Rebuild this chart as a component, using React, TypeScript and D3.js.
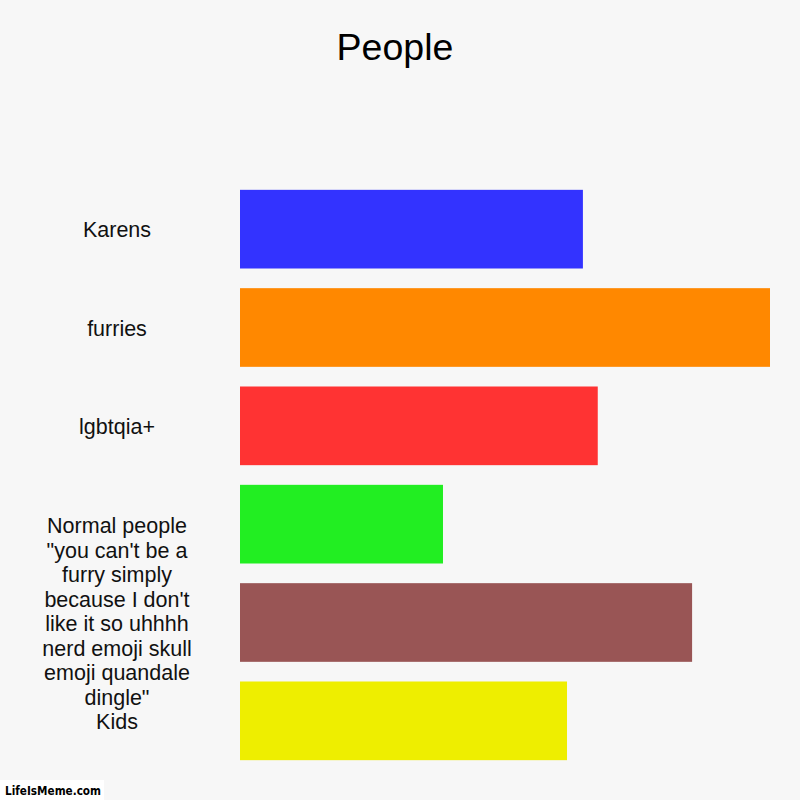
import React from "react";
import * as d3 from "d3";

const labelLines = [
  ["Karens"],
  ["furries"],
  ["lgbtqia+"],
  [],
  [
    "Normal people",
    "\"you can't be a",
    "furry simply",
    "because I don't",
    "like it so uhhhh",
    "nerd emoji skull",
    "emoji quandale",
    "dingle\"",
  ],
  ["Kids"],
];
const barKeys = ["b1", "b2", "b3", "b4", "b5", "b6"];
const values = [64.7, 100, 67.5, 38.3, 85.3, 61.7];
const colors = ["#3333ff", "#ff8800", "#ff3333", "#22ee22", "#995555", "#eeee00"];
const title = "People";

export default function App() {
  const W = 800;
  const H = 800;
  const x = d3.scaleLinear().domain([0, 100]).range([240, 770]);
  const y = d3
    .scaleBand<string>()
    .domain(barKeys)
    .range([180, 770])
    .paddingInner(0.2)
    .paddingOuter(0.1);
  const lh = 24.5;
  return (
    <svg
      width={W}
      height={H}
      style={{ position: "absolute", left: 0, top: 0 }}
      fontFamily="'Liberation Sans', Arial, sans-serif"
    >
      <rect x={0} y={0} width={W} height={H} fill="#f7f7f7" />
      <text x={395} y={60} textAnchor="middle" fontSize={37.5} fill="#000">
        {title}
      </text>
      {barKeys.map((k, i) => (
        <rect
          key={k}
          x={x(0)}
          y={y(k)}
          width={x(values[i]) - x(0)}
          height={y.bandwidth()}
          fill={colors[i]}
        />
      ))}
      {barKeys.map((k, i) => {
        const lines = labelLines[i];
        if (!lines.length) return null;
        const cy = (y(k) as number) + y.bandwidth() / 2;
        const n = lines.length;
        const shift = n > 1 ? -11.5 : 0;
        const base = cy + 8 - ((n - 1) * lh) / 2 + shift;
        return (
          <text key={k} textAnchor="middle" fontSize={21.5} fill="#111">
            {lines.map((l, j) => (
              <tspan key={j} x={117} y={base + j * lh}>
                {l}
              </tspan>
            ))}
          </text>
        );
      })}
      <rect x={0} y={780} width={104} height={20} fill="#ffffff" />
      <text
        x={5}
        y={795}
        fontSize={12}
        fontWeight="bold"
        fontFamily="'DejaVu Sans', sans-serif"
        fill="#000"
        textLength={96}
        lengthAdjust="spacingAndGlyphs"
      >
        LifeIsMeme.com
      </text>
    </svg>
  );
}
